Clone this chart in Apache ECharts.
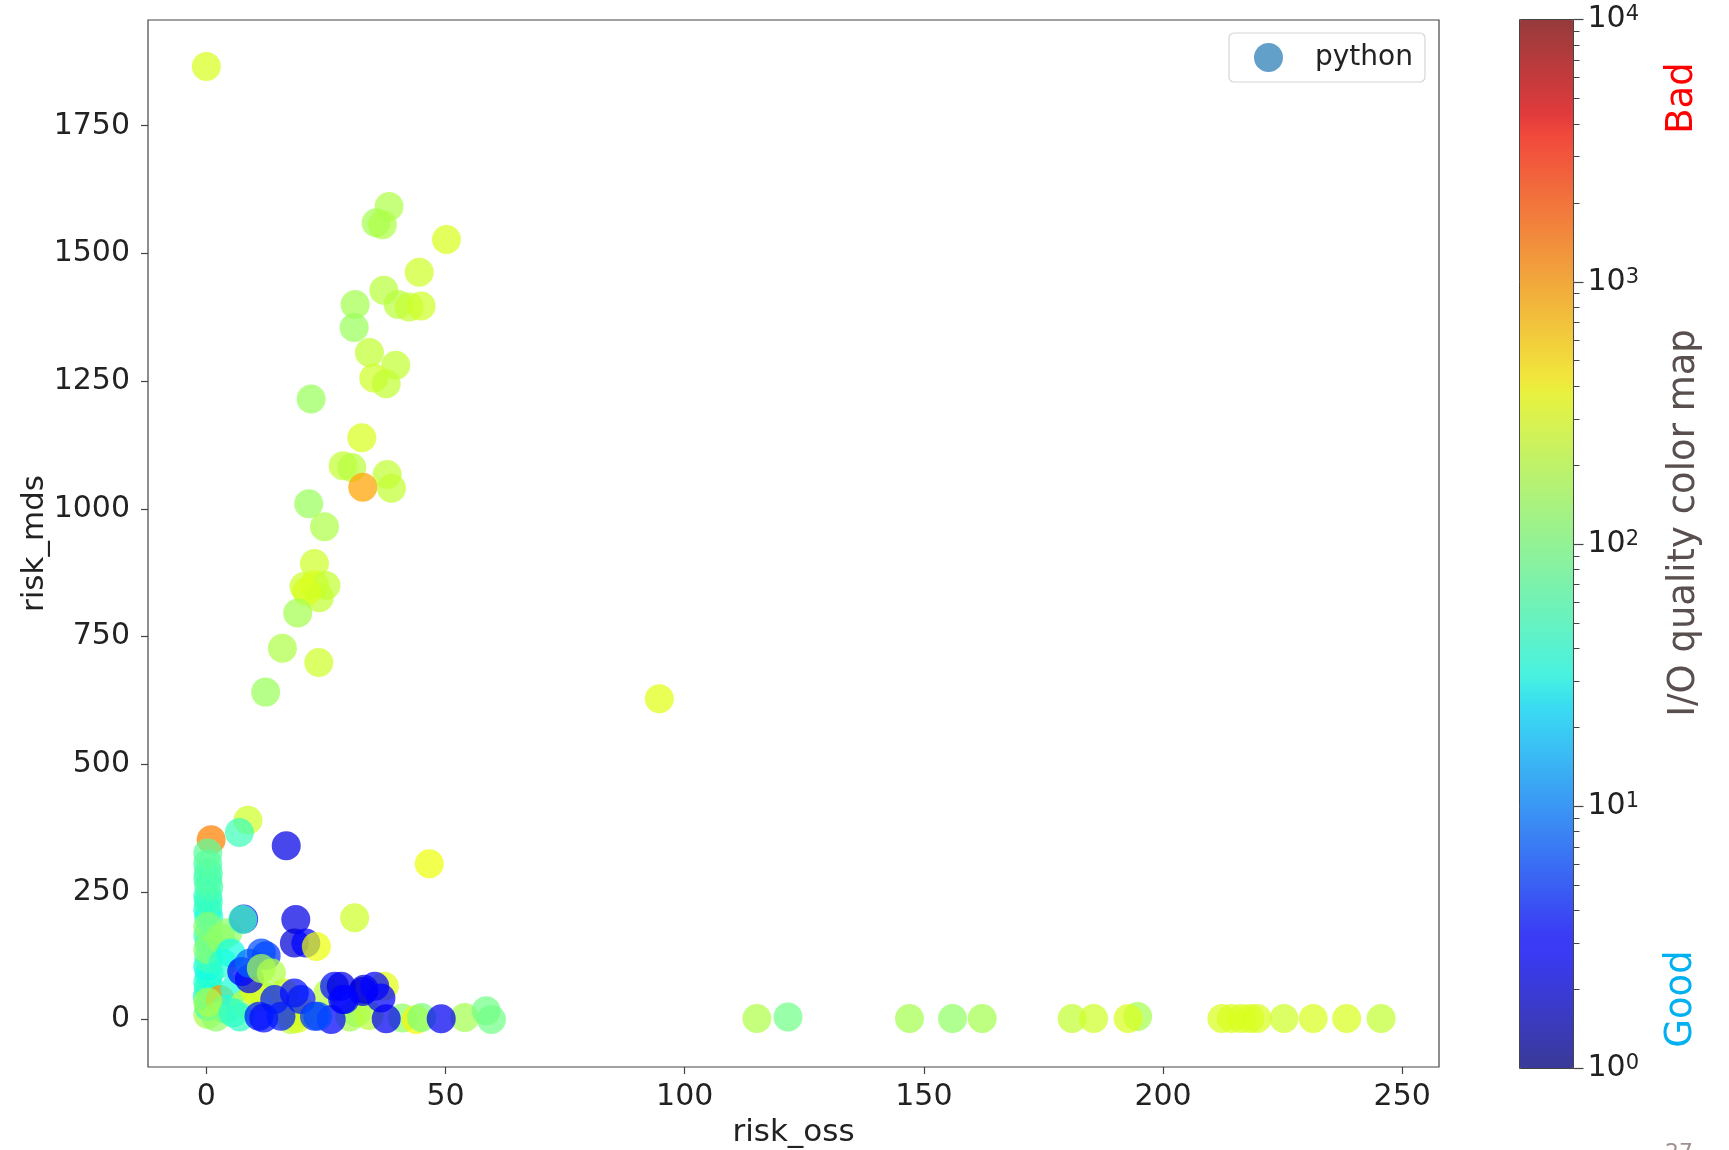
<!DOCTYPE html>
<html><head><meta charset="utf-8">
<script src="https://cdn.jsdelivr.net/npm/echarts@6/dist/echarts.min.js"></script>
<style>html,body{margin:0;padding:0;background:#fff}#c{width:1729px;height:1150px}</style>
</head><body><div id="c"></div>
<script>
// risk_oss (x), risk_mds (y), log10 of I/O quality (colour)
const riskOss = [
 1.0, 8.7, 6.9,
 0.3, 0.5, 0.2, 0.4, 0.3, 0.6, 0.3, 0.5, 0.6, 0.3, 0.5, 0.3, 0.4, 0.3, 0.5, 0.3, 0.4, 0.3, 0.3, 0.3, 0.3,
 2.9, 3.0, 4.5, 3.5, 5.1, 4.0, 2.0, 6.0, 8.0, 12.0, 0.3, 5.6, 7.0,
 10.0, 17.0, 16.3, 25.4, 20.5, 31.4, 30.0, 34.0, 37.2, 41.0, 43.9, 45.0, 54.0, 58.5, 59.6, 17.7, 19.0,
 7.8, 7.6, 16.7, 18.7, 18.4, 20.8, 23.0, 31.0,
 9.0, 7.4, 9.0, 12.5, 11.5, 11.5, 13.6,
 26.8, 28.2, 32.7, 33.0, 35.2, 28.9, 28.5, 36.5, 14.3, 18.4, 19.8,
 26.1, 37.6, 49.1,
 11.0, 12.0, 15.6, 22.6, 23.3,
 0.0, 38.2, 35.5, 36.8, 50.2, 44.5, 37.1, 31.1, 40.1, 42.4, 44.9, 30.9, 34.1, 39.6, 35.0, 37.6, 21.9, 32.5,
 28.6, 30.4, 37.8, 38.7, 32.7, 21.4, 24.7, 22.6, 20.4, 22.6, 25.0, 23.6, 21.0, 19.1, 15.9, 23.5, 12.4,
 94.7, 46.6,
 115.1, 121.6, 147.0, 156.0, 162.2, 181.0, 185.5, 194.7, 192.7, 212.3, 214.3, 216.4, 218.2, 219.7, 225.3, 231.4, 238.4, 245.6
];
const riskMds = [
 352, 390, 366,
 10, 25, 45, 60, 73, 90, 104, 120, 150, 165, 200, 215, 230, 241, 260, 275, 287, 305, 326, 137, 182,
 39, 160, 170, 110, 130, 20, 5, 60, 30, 45, 34, 13, 5,
 59, 13, 52, 52, 13, 13, 5, 8, 65, 3, 0, 4, 4, 17, 0, 0, 2,
 197, 196, 340, 196, 150, 150, 143, 199,
 80, 94, 110, 125, 130, 100, 91,
 65, 65, 55, 59, 65, 39, 39, 42, 39, 52, 39,
 0, 1.3, 1.3,
 6.5, 3, 6.5, 6.5, 6.5,
 1866, 1592, 1560, 1556, 1527, 1463, 1428, 1400, 1400, 1395, 1397, 1355, 1306, 1281, 1256, 1245, 1215, 1139,
 1084, 1081, 1067, 1040, 1042, 1010, 965, 893, 848, 851, 850, 826, 838, 796, 727, 699, 641,
 628, 305,
 2, 5, 2, 2, 2, 2, 2, 6, 2, 2, 2, 2, 2, 2, 2, 2, 2, 2
];
const ioQualityLog = [
 3.1, 2.4, 1.7,
 2.2, 1.65, 1.55, 1.7, 1.6, 1.55, 1.5, 1.7, 1.65, 1.75, 1.6, 1.55, 1.7, 1.65, 1.75, 1.8, 1.75, 1.8, 1.85, 2.05, 2.05,
 3.0, 2.1, 2.1, 1.6, 1.5, 1.6, 2.1, 1.55, 2.3, 2.2, 2.2, 1.6, 1.65,
 2.5, 2.5, 2.5, 2.3, 2.55, 2.1, 2.2, 2.3, 2.5, 2.1, 2.6, 2.0, 2.2, 1.95, 1.95, 2.3, 2.45,
 0.5, 1.7, 0.35, 0.35, 0.3, 0.5, 2.55, 2.4,
 0.4, 0.5, 0.9, 0.7, 0.8, 2.2, 2.25,
 0.55, 0.35, 0.35, 0.3, 0.5, 0.5, 0.5, 0.45, 0.6, 0.55, 0.6,
 0.5, 0.4, 0.4,
 0.6, 0.55, 0.6, 0.7, 0.8,
 2.45, 2.25, 2.2, 2.25, 2.45, 2.4, 2.3, 2.2, 2.3, 2.35, 2.4, 2.15, 2.35, 2.35, 2.4, 2.35, 2.15, 2.45,
 2.35, 2.3, 2.35, 2.35, 2.95, 2.15, 2.25, 2.4, 2.4, 2.45, 2.35, 2.35, 2.45, 2.2, 2.25, 2.4, 2.15,
 2.5, 2.55,
 2.25, 1.95, 2.2, 2.1, 2.2, 2.35, 2.4, 2.2, 2.45, 2.45, 2.45, 2.45, 2.45, 2.45, 2.4, 2.45, 2.45, 2.35
];
const seriesName = 'python';
const xTicks = [0, 50, 100, 150, 200, 250];
const yTicks = [0, 250, 500, 750, 1000, 1250, 1500, 1750];
const cbarExponents = [0, 1, 2, 3, 4];

// jet colormap (matplotlib segment data)
function seg(pts, t) {
  for (let i = 1; i < pts.length; i++) {
    if (t <= pts[i][0]) {
      const a = pts[i - 1], b = pts[i];
      return a[1] + (b[1] - a[1]) * (t - a[0]) / (b[0] - a[0]);
    }
  }
  return pts[pts.length - 1][1];
}
const JR = [[0,0],[0.35,0],[0.66,1],[0.89,1],[1,0.5]];
const JG = [[0,0],[0.125,0],[0.375,1],[0.64,1],[0.91,0],[1,0]];
const JB = [[0,0.5],[0.11,1],[0.34,1],[0.65,0],[1,0]];
const ALPHA = 0.72;
const jetColors = [];
for (let i = 0; i <= 100; i++) {
  const t = i / 100;
  jetColors.push('rgba(' + Math.round(seg(JR,t)*255) + ',' + Math.round(seg(JG,t)*255) + ',' + Math.round(seg(JB,t)*255) + ',' + ALPHA + ')');
}
const minorTicks = [];
for (let k = 0; k < 4; k++) for (let m = 2; m <= 9; m++) minorTicks.push(k + Math.log10(m));

const points = riskOss.map((x, i) => [x, riskMds[i], ioQualityLog[i]]);
const FONT = 'DejaVu Sans';

const chart = echarts.init(document.getElementById('c'), null, {renderer: 'canvas'});
chart.setOption({
  backgroundColor: '#ffffff',
  animation: false,
  grid: [
    {left: 148, right: 290, top: 20, bottom: 83, show: true, borderColor: '#444', borderWidth: 1.2, backgroundColor: 'transparent', containLabel: false, outerBoundsMode: 'none'},
    {left: 1519.5, top: 19.5, width: 54, height: 1049, show: true, borderColor: '#444', borderWidth: 1, z: 10, backgroundColor: 'transparent', containLabel: false, outerBoundsMode: 'none'},
    {left: 1519.5, top: 19.5, width: 54, height: 1049, show: false, containLabel: false, outerBoundsMode: 'none'}
  ],
  xAxis: [
    {gridIndex: 0, type: 'value', min: -12.2, max: 257.7, position: 'bottom',
     name: 'risk_oss', nameLocation: 'middle', nameGap: 50,
     nameTextStyle: {fontFamily: FONT, fontSize: 31, color: '#222'},
     axisLine: {show: false, onZero: false}, splitLine: {show: false},
     axisTick: {show: true, length: 7, customValues: xTicks, lineStyle: {color: '#444', width: 1.2}},
     axisLabel: {customValues: xTicks, margin: 15, fontFamily: FONT, fontSize: 30, color: '#222', formatter: v => String(v)}},
    {gridIndex: 1, type: 'value', show: false, min: 0, max: 1},
    {gridIndex: 2, type: 'value', show: false, min: 0, max: 1}
  ],
  yAxis: [
    {gridIndex: 0, type: 'value', min: -93, max: 1957, position: 'left',
     name: 'risk_mds', nameLocation: 'middle', nameGap: 98, nameMoveOverlap: false,
     nameTextStyle: {fontFamily: FONT, fontSize: 31, color: '#222'},
     axisLine: {show: false, onZero: false}, splitLine: {show: false},
     axisTick: {show: true, length: 7, customValues: yTicks, lineStyle: {color: '#444', width: 1.2}},
     axisLabel: {customValues: yTicks, margin: 18, fontFamily: FONT, fontSize: 30, color: '#222', formatter: v => String(v)}},
    {gridIndex: 1, type: 'value', min: 0, max: 4, position: 'right',
     axisLine: {show: false, onZero: false}, splitLine: {show: false},
     axisTick: {show: true, length: 10, customValues: cbarExponents, lineStyle: {color: '#444', width: 1.2}},
     axisLabel: {customValues: cbarExponents, margin: 14,
       formatter: v => '{b|10}{s|' + Math.round(v) + '}',
       rich: {b: {fontFamily: FONT, fontSize: 30, color: '#222'},
              s: {fontFamily: FONT, fontSize: 21, color: '#222', verticalAlign: 'top'}}}},
    {gridIndex: 2, type: 'value', min: 0, max: 4, position: 'right',
     axisLine: {show: false, onZero: false}, splitLine: {show: false},
     axisTick: {show: true, length: 6, customValues: minorTicks, lineStyle: {color: '#444', width: 1}},
     axisLabel: {show: false}}
  ],
  legend: {
    show: true, left: 1229, top: 33, orient: 'horizontal',
    data: [{name: seriesName, icon: 'circle', itemStyle: {color: 'rgba(31,119,180,0.7)'}}],
    itemWidth: 29, itemHeight: 29,
    padding: [10, 12, 10, 25],
    borderColor: '#d6d6d6', borderWidth: 1.2, borderRadius: 5,
    backgroundColor: 'rgba(255,255,255,0.8)',
    textStyle: {fontFamily: FONT, fontSize: 28, color: '#222', padding: [0, 0, 0, 27]},
    itemStyle: {color: 'rgba(31,119,180,0.7)'}
  },
  visualMap: {
    type: 'continuous', seriesIndex: 0, dimension: 2, min: 0, max: 4,
    orient: 'vertical', left: 1519.5, top: 19.5, itemWidth: 54, itemHeight: 1049,
    padding: 0, calculable: false, hoverLink: false, text: null, showLabel: false,
    inRange: {color: jetColors}
  },
  series: [{
    name: seriesName, type: 'scatter', xAxisIndex: 0, yAxisIndex: 0,
    symbol: 'circle', symbolSize: 29, data: points,
    itemStyle: {opacity: 1, color: 'rgba(31,119,180,0.7)'},
    emphasis: {disabled: true}
  }],
  graphic: [
    {type: 'text', x: 1684, y: 523, rotation: Math.PI / 2, z: 100,
     style: {text: 'I/O quality color map', fontFamily: FONT, fontSize: 37, fill: '#594f4f', align: 'center', verticalAlign: 'middle'}},
    {type: 'text', x: 1682, y: 98, rotation: Math.PI / 2, z: 100,
     style: {text: 'Bad', fontFamily: FONT, fontSize: 37, fill: '#ff0000', align: 'center', verticalAlign: 'middle'}},
    {type: 'text', x: 1681, y: 999, rotation: Math.PI / 2, z: 100,
     style: {text: 'Good', fontFamily: FONT, fontSize: 37, fill: '#00b0f0', align: 'center', verticalAlign: 'middle'}},
    {type: 'text', x: 1665, y: 1142, z: 100,
     style: {text: '27', fontFamily: FONT, fontSize: 22, fill: '#a09090', align: 'left', verticalAlign: 'top'}}
  ]
});
</script>
</body></html>
